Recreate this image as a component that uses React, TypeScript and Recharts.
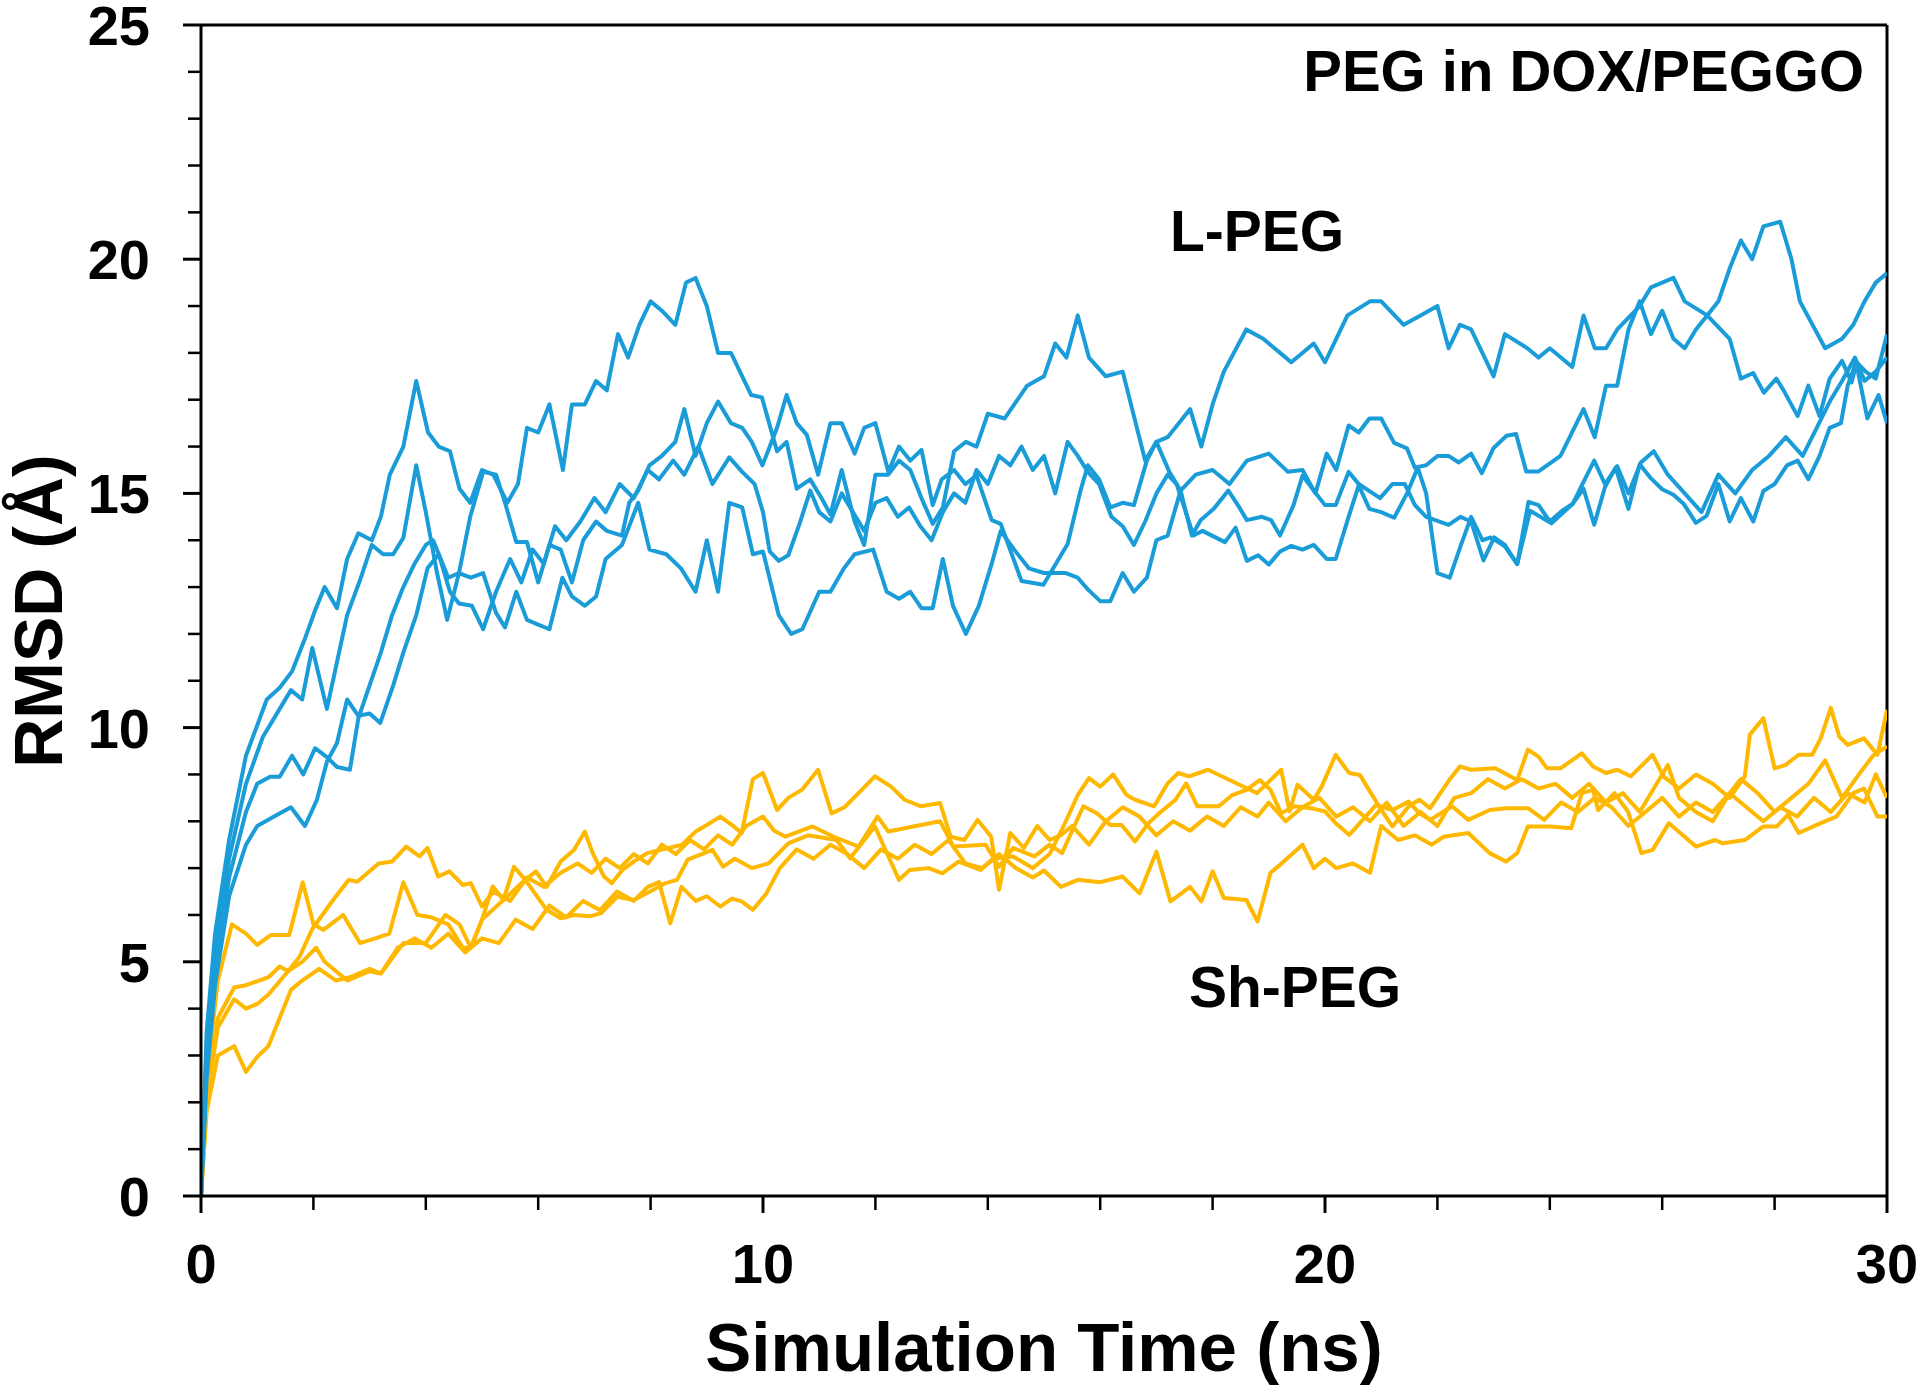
import React from 'react';
import { LineChart, Line, XAxis, YAxis, ReferenceLine } from 'recharts';

const BLUE = '#1A9CD8';
const GOLD = '#FFB800';
const FONT = '"Liberation Sans", Arial, Helvetica, sans-serif';

const xTicks = [0, 2, 4, 6, 8, 10, 12, 14, 16, 18, 20, 22, 24, 26, 28, 30];
const xLabelTicks = [0, 10, 20, 30];
const yTicks = [0, 1, 2, 3, 4, 5, 6, 7, 8, 9, 10, 11, 12, 13, 14, 15, 16, 17, 18, 19, 20, 21, 22, 23, 24, 25];
const yLabelTicks = [0, 5, 10, 15, 20, 25];

// L-PEG trajectories: [time (ns), RMSD (Å)]
const lPeg1: [number, number][] = [
  [0, 0], [0.1, 3.5], [0.25, 5.6], [0.5, 7.6], [0.8, 9.4], [1.17, 10.6], [1.4, 10.85], [1.62, 11.2], [1.85, 11.9], [2.03, 12.5],
  [2.2, 13.0], [2.42, 12.55], [2.6, 13.6], [2.8, 14.15], [3.04, 14.0], [3.2, 14.5], [3.36, 15.4], [3.6, 16.0], [3.83, 17.4], [4.04, 16.3],
  [4.23, 16.0], [4.43, 15.9], [4.6, 15.1], [4.79, 14.8], [5.0, 15.5], [5.2, 15.4], [5.45, 14.8], [5.64, 15.2], [5.8, 16.4], [6.0, 16.3],
  [6.2, 16.9], [6.44, 15.5], [6.6, 16.9], [6.83, 16.9], [7.03, 17.4], [7.22, 17.2], [7.42, 18.4], [7.6, 17.9], [7.8, 18.6], [8.0, 19.1],
  [8.2, 18.9], [8.44, 18.6], [8.63, 19.5], [8.8, 19.6], [9.0, 19.0], [9.2, 18.0], [9.43, 18.0], [9.79, 17.1], [9.98, 17.05], [10.25, 15.9],
  [10.42, 16.1], [10.6, 15.1], [10.84, 15.3], [11.04, 14.9], [11.2, 14.55], [11.4, 15.5], [11.63, 14.4], [11.8, 13.9], [12.0, 15.4], [12.23, 15.4],
  [12.42, 15.7], [12.62, 15.5], [12.82, 14.9], [13.02, 14.35], [13.2, 14.7], [13.4, 15.9], [13.61, 16.1], [13.8, 16.0], [14.0, 16.7], [14.3, 16.6],
  [14.7, 17.3], [15.0, 17.5], [15.2, 18.2], [15.4, 17.9], [15.6, 18.8], [15.8, 17.9], [16.1, 17.5], [16.4, 17.6], [16.8, 15.7], [17.0, 16.1],
  [17.2, 16.2], [17.6, 16.8], [17.8, 16.0], [18.0, 16.9], [18.2, 17.6], [18.6, 18.5], [18.9, 18.3], [19.2, 18.0], [19.4, 17.8], [19.8, 18.2],
  [20.0, 17.8], [20.4, 18.8], [20.8, 19.1], [21.0, 19.1], [21.4, 18.6], [21.7, 18.8], [22.0, 19.0], [22.2, 18.1], [22.4, 18.6], [22.6, 18.5],
  [23.0, 17.5], [23.2, 18.4], [23.6, 18.1], [23.8, 17.9], [24.0, 18.1], [24.4, 17.7], [24.6, 18.8], [24.8, 18.1], [25.0, 18.1], [25.2, 18.5],
  [25.6, 19.0], [25.8, 19.4], [26.2, 19.6], [26.4, 19.1], [26.8, 18.8], [27.2, 18.3], [27.4, 17.45], [27.62, 17.57], [27.81, 17.15], [28.03, 17.45],
  [28.16, 17.2], [28.41, 16.65], [28.6, 17.3], [28.8, 16.65], [28.98, 17.45], [29.2, 17.83], [29.37, 17.37], [29.46, 17.8], [29.62, 17.6], [29.8, 17.45],
  [30.0, 18.4],
];

const lPeg2: [number, number][] = [
  [0, 0], [0.1, 3.2], [0.25, 5.2], [0.5, 7.2], [0.8, 8.8], [1.1, 9.8], [1.4, 10.4], [1.6, 10.8], [1.8, 10.6], [1.98, 11.7],
  [2.24, 10.4], [2.42, 11.4], [2.6, 12.4], [2.83, 13.15], [3.04, 13.9], [3.24, 13.7], [3.42, 13.7], [3.6, 14.05], [3.83, 15.6], [4.0, 14.6],
  [4.2, 13.3], [4.38, 12.3], [4.59, 13.3], [4.8, 13.2], [5.02, 13.3], [5.25, 12.45], [5.41, 12.14], [5.61, 12.9], [5.8, 12.3], [6.0, 12.2],
  [6.2, 12.1], [6.43, 13.2], [6.6, 12.8], [6.83, 12.6], [7.03, 12.8], [7.2, 13.6], [7.49, 13.9], [7.78, 14.8], [7.98, 13.8], [8.28, 13.7],
  [8.54, 13.4], [8.8, 12.9], [9.0, 14.0], [9.2, 12.9], [9.4, 14.8], [9.63, 14.7], [9.82, 13.7], [10.0, 13.76], [10.28, 12.4], [10.5, 12.0],
  [10.7, 12.1], [11.0, 12.9], [11.2, 12.9], [11.44, 13.4], [11.63, 13.7], [11.96, 13.8], [12.2, 12.9], [12.42, 12.75], [12.62, 12.9], [12.82, 12.55],
  [13.02, 12.55], [13.2, 13.6], [13.38, 12.6], [13.61, 12.0], [13.84, 12.6], [14.07, 13.5], [14.23, 14.2], [14.47, 13.8], [14.73, 13.4], [15.0, 13.3],
  [15.39, 13.3], [15.6, 13.2], [15.78, 12.95], [16.0, 12.7], [16.18, 12.7], [16.4, 13.3], [16.6, 12.9], [16.83, 13.2], [17.0, 14.0], [17.2, 14.1],
  [17.43, 15.06], [17.7, 15.4], [18.0, 15.5], [18.3, 15.2], [18.61, 15.7], [19.0, 15.85], [19.34, 15.46], [19.6, 15.5], [19.83, 15.0], [20.03, 15.85],
  [20.2, 15.5], [20.42, 16.45], [20.6, 16.3], [20.79, 16.6], [21.0, 16.6], [21.23, 16.08], [21.46, 15.96], [21.6, 15.55], [21.8, 15.6], [22.0, 15.8],
  [22.2, 15.8], [22.38, 15.66], [22.6, 15.85], [22.79, 15.43], [23.0, 15.97], [23.23, 16.23], [23.4, 16.27], [23.58, 15.47], [23.8, 15.47], [24.19, 15.8],
  [24.6, 16.8], [24.8, 16.2], [25.0, 17.3], [25.2, 17.3], [25.4, 18.5], [25.6, 19.1], [25.8, 18.4], [26.0, 18.9], [26.2, 18.3], [26.4, 18.1],
  [26.6, 18.5], [26.8, 18.8], [27.0, 19.1], [27.2, 19.8], [27.4, 20.4], [27.6, 20.0], [27.8, 20.7], [28.1, 20.8], [28.3, 20.0], [28.45, 19.1],
  [28.9, 18.1], [29.2, 18.3], [29.4, 18.6], [29.6, 19.1], [29.8, 19.5], [30.0, 19.7],
];

const lPeg3: [number, number][] = [
  [0, 0], [0.1, 2.8], [0.25, 4.8], [0.5, 6.8], [0.8, 8.2], [1.0, 8.8], [1.23, 8.95], [1.4, 8.95], [1.62, 9.4], [1.82, 9.0],
  [2.03, 9.56], [2.24, 9.37], [2.42, 9.16], [2.65, 9.1], [2.8, 10.2], [3.0, 10.9], [3.2, 11.6], [3.4, 12.4], [3.6, 13.0], [3.8, 13.5],
  [4.0, 13.9], [4.13, 14.0], [4.4, 13.2], [4.59, 13.3], [4.79, 14.5], [5.02, 15.46], [5.25, 15.4], [5.41, 14.8], [5.61, 13.96], [5.8, 13.96],
  [6.0, 13.1], [6.2, 13.9], [6.4, 13.8], [6.6, 13.1], [6.8, 14.0], [7.03, 14.4], [7.22, 14.2], [7.49, 14.1], [7.62, 14.8], [7.78, 15.06],
  [7.98, 15.6], [8.2, 15.8], [8.44, 16.1], [8.6, 16.8], [8.8, 15.8], [9.0, 16.5], [9.2, 16.96], [9.43, 16.5], [9.63, 16.4], [9.8, 16.1],
  [9.99, 15.6], [10.25, 16.4], [10.42, 17.1], [10.6, 16.5], [10.78, 16.25], [10.98, 15.4], [11.2, 16.5], [11.4, 16.5], [11.63, 15.85], [11.8, 16.4],
  [12.0, 16.5], [12.23, 15.46], [12.42, 16.0], [12.62, 15.7], [12.82, 15.93], [13.02, 14.75], [13.18, 15.3], [13.4, 15.5], [13.6, 15.2], [13.8, 15.38],
  [14.07, 14.43], [14.23, 14.35], [14.6, 13.13], [14.99, 13.05], [15.42, 13.92], [15.65, 15.06], [15.78, 15.6], [15.98, 15.3], [16.18, 14.7], [16.4, 14.8],
  [16.6, 14.75], [16.83, 15.7], [17.0, 16.1], [17.23, 15.46], [17.43, 15.06], [17.63, 14.1], [17.79, 14.43], [18.02, 14.67], [18.28, 15.06], [18.45, 14.75],
  [18.61, 14.43], [18.88, 14.5], [19.04, 14.43], [19.2, 14.1], [19.44, 14.75], [19.6, 15.38], [19.8, 15.06], [20.0, 14.75], [20.19, 14.75], [20.42, 15.46],
  [20.6, 15.2], [20.98, 14.9], [21.2, 15.2], [21.42, 15.2], [21.6, 14.75], [21.8, 14.5], [22.2, 14.33], [22.41, 14.5], [22.6, 14.4], [22.82, 13.57],
  [23.01, 14.06], [23.2, 13.9], [23.42, 13.49], [23.62, 14.82], [23.8, 14.75], [24.0, 14.4], [24.22, 14.63], [24.41, 14.78], [24.6, 15.1], [24.79, 14.33],
  [24.98, 15.13], [25.17, 15.55], [25.4, 14.67], [25.6, 15.62], [25.8, 15.32], [26.0, 15.09], [26.2, 14.97], [26.38, 14.78], [26.6, 14.37], [26.79, 14.52],
  [27.0, 15.2], [27.2, 14.4], [27.4, 14.9], [27.62, 14.4], [27.8, 15.05], [28.0, 15.2], [28.22, 15.6], [28.41, 15.7], [28.6, 15.3], [28.8, 15.8],
  [28.98, 16.4], [29.18, 16.5], [29.3, 17.3], [29.45, 17.8], [29.65, 16.6], [29.85, 17.1], [30.0, 16.5],
];

const lPeg4: [number, number][] = [
  [0, 0], [0.1, 2.5], [0.25, 4.5], [0.5, 6.4], [0.8, 7.5], [1.0, 7.9], [1.3, 8.1], [1.6, 8.3], [1.85, 7.9], [2.06, 8.45],
  [2.24, 9.27], [2.42, 9.67], [2.6, 10.6], [2.8, 10.25], [3.0, 10.3], [3.19, 10.1], [3.42, 10.9], [3.6, 11.6], [3.83, 12.4], [4.03, 13.4],
  [4.23, 13.7], [4.43, 12.9], [4.59, 12.65], [4.82, 12.6], [5.02, 12.1], [5.25, 12.9], [5.5, 13.6], [5.7, 13.1], [5.9, 13.8], [6.1, 13.5],
  [6.3, 14.3], [6.5, 14.0], [6.75, 14.4], [7.0, 14.9], [7.2, 14.6], [7.45, 15.2], [7.7, 14.9], [7.95, 15.5], [8.15, 15.3], [8.4, 15.7],
  [8.6, 15.4], [8.85, 16.0], [9.1, 15.2], [9.4, 15.77], [9.63, 15.46], [9.85, 15.2], [10.0, 14.6], [10.12, 13.76], [10.28, 13.56], [10.45, 13.68],
  [10.65, 14.35], [10.84, 15.06], [11.0, 14.6], [11.2, 14.4], [11.4, 15.0], [11.6, 14.6], [11.8, 14.2], [12.0, 14.8], [12.2, 14.9], [12.4, 14.5],
  [12.6, 14.7], [12.8, 14.3], [13.0, 14.0], [13.2, 14.6], [13.4, 15.0], [13.6, 14.8], [13.8, 15.5], [14.0, 15.2], [14.2, 15.8], [14.4, 15.6],
  [14.6, 16.0], [14.8, 15.5], [15.0, 15.8], [15.2, 15.0], [15.42, 16.1], [15.6, 15.8], [15.78, 15.46], [15.98, 15.2], [16.2, 14.5], [16.4, 14.3],
  [16.6, 13.9], [16.8, 14.4], [17.0, 15.0], [17.2, 15.4], [17.36, 15.2], [17.66, 14.1], [17.82, 14.2], [18.22, 13.96], [18.41, 14.27], [18.61, 13.56],
  [18.81, 13.68], [19.0, 13.48], [19.2, 13.76], [19.4, 13.88], [19.6, 13.8], [19.8, 13.9], [20.03, 13.6], [20.19, 13.6], [20.42, 14.5], [20.6, 15.17],
  [20.79, 14.67], [21.0, 14.6], [21.23, 14.48], [21.46, 15.0], [21.65, 15.55], [21.8, 15.0], [22.0, 13.3], [22.22, 13.2], [22.41, 13.87], [22.6, 14.5],
  [22.8, 14.0], [22.95, 14.06], [23.2, 13.87], [23.42, 13.49], [23.65, 14.63], [24.03, 14.36], [24.41, 14.78], [24.57, 15.17], [24.79, 15.7], [24.98, 15.2],
  [25.2, 15.58], [25.4, 15.0], [25.62, 15.66], [25.85, 15.9], [26.1, 15.4], [26.4, 15.0], [26.7, 14.6], [27.0, 15.4], [27.3, 15.0], [27.6, 15.5],
  [27.9, 15.8], [28.2, 16.2], [28.5, 15.8], [28.75, 16.4], [29.0, 17.0], [29.2, 17.4], [29.43, 17.9], [29.6, 17.4], [29.8, 17.6], [30.0, 17.9],
];

// Sh-PEG trajectories: [time (ns), RMSD (Å)]
const shPeg1: [number, number][] = [
  [0, 0], [0.1, 2.5], [0.3, 4.6], [0.55, 5.8], [0.8, 5.6], [1.0, 5.36], [1.24, 5.57], [1.57, 5.57], [1.81, 6.7], [2.0, 5.8],
  [2.18, 5.68], [2.53, 6.0], [2.83, 5.4], [3.1, 5.5], [3.35, 5.6], [3.6, 6.7], [3.85, 6.0], [4.1, 5.95], [4.4, 5.8], [4.66, 5.3],
  [4.8, 5.3], [5.0, 5.9], [5.19, 6.61], [5.38, 6.32], [5.57, 7.03], [5.77, 6.75], [5.96, 6.93], [6.15, 6.6], [6.4, 7.14], [6.64, 7.39],
  [6.83, 7.78], [6.97, 7.32], [7.17, 6.82], [7.31, 6.68], [7.5, 6.96], [7.7, 7.14], [7.94, 7.32], [8.18, 7.39], [8.56, 7.5], [8.8, 7.78],
  [9.0, 7.92], [9.24, 8.1], [9.48, 7.89], [9.62, 7.75], [9.82, 8.9], [10.0, 9.03], [10.25, 8.24], [10.45, 8.5], [10.69, 8.67], [10.98, 9.1],
  [11.22, 8.17], [11.45, 8.3], [11.7, 8.6], [11.99, 8.96], [12.28, 8.74], [12.52, 8.46], [12.81, 8.32], [13.15, 8.39], [13.34, 7.67], [13.58, 7.6],
  [13.82, 8.03], [14.06, 7.67], [14.2, 6.54], [14.4, 7.75], [14.64, 7.43], [14.88, 7.9], [15.1, 7.6], [15.3, 7.7], [15.5, 7.9], [15.8, 7.5],
  [16.1, 8.0], [16.4, 8.3], [16.7, 8.1], [17.0, 7.7], [17.3, 8.0], [17.6, 7.8], [17.9, 8.1], [18.2, 7.9], [18.5, 8.3], [18.8, 8.1],
  [19.0, 8.4], [19.3, 8.0], [19.6, 8.3], [19.9, 8.5], [20.2, 8.1], [20.5, 8.3], [20.8, 8.0], [21.1, 8.4], [21.4, 7.9], [21.7, 8.2],
  [22.0, 7.9], [22.3, 8.5], [22.6, 8.6], [22.9, 8.9], [23.2, 8.7], [23.5, 8.9], [23.8, 8.7], [24.1, 8.8], [24.4, 8.5], [24.7, 8.8],
  [25.0, 8.4], [25.3, 8.6], [25.6, 8.2], [25.9, 8.8], [26.1, 9.2], [26.3, 8.5], [26.6, 8.2], [26.9, 8.0], [27.2, 8.6], [27.4, 8.9],
  [27.7, 8.6], [28.0, 8.2], [28.3, 8.5], [28.6, 8.8], [28.9, 9.3], [29.2, 8.5], [29.5, 9.0], [29.75, 9.4], [30.0, 9.6],
];

const shPeg2: [number, number][] = [
  [0, 0], [0.1, 2.2], [0.3, 3.8], [0.59, 4.45], [0.8, 4.5], [1.2, 4.67], [1.4, 4.9], [1.55, 4.8], [1.75, 5.1], [1.98, 5.7],
  [2.35, 6.32], [2.63, 6.75], [2.78, 6.71], [3.16, 7.1], [3.4, 7.14], [3.65, 7.46], [3.89, 7.25], [4.03, 7.43], [4.22, 6.82], [4.42, 6.93],
  [4.66, 6.64], [4.8, 6.68], [5.0, 6.18], [5.2, 6.5], [5.5, 6.3], [5.8, 6.8], [6.1, 6.6], [6.4, 6.9], [6.7, 7.1], [6.95, 6.9],
  [7.2, 7.2], [7.45, 7.0], [7.7, 7.3], [7.95, 7.1], [8.2, 7.5], [8.45, 7.3], [8.7, 7.6], [8.95, 7.4], [9.2, 7.7], [9.45, 7.5],
  [9.7, 7.9], [10.0, 8.1], [10.2, 7.8], [10.4, 7.67], [10.88, 7.89], [11.26, 7.67], [11.7, 7.46], [12.04, 8.1], [12.23, 7.78], [12.81, 7.92],
  [13.15, 8.0], [13.39, 7.46], [13.96, 7.5], [14.2, 7.03], [14.45, 7.43], [14.83, 7.25], [15.1, 7.5], [15.32, 7.32], [15.7, 8.32], [15.94, 8.17],
  [16.18, 7.92], [16.38, 7.92], [16.62, 7.57], [16.86, 7.96], [17.05, 8.17], [17.34, 8.46], [17.53, 8.81], [17.73, 8.32], [18.11, 8.32], [18.35, 8.56],
  [18.6, 8.67], [18.84, 8.88], [19.03, 8.67], [19.22, 8.17], [19.46, 8.32], [19.75, 8.28], [20.0, 8.21], [20.19, 7.96], [20.43, 7.71], [20.62, 7.96],
  [20.91, 8.35], [21.2, 8.24], [21.49, 8.42], [21.68, 8.17], [21.87, 8.03], [22.26, 8.32], [22.55, 8.03], [22.93, 8.24], [23.22, 8.28], [23.61, 8.28],
  [23.9, 8.03], [24.2, 8.4], [24.5, 8.2], [24.8, 8.5], [25.1, 8.3], [25.4, 7.9], [25.7, 8.2], [26.0, 8.5], [26.3, 8.1], [26.6, 8.4],
  [26.9, 8.2], [27.2, 8.6], [27.5, 8.3], [27.8, 8.0], [28.1, 8.3], [28.4, 8.1], [28.7, 8.5], [29.0, 8.2], [29.3, 8.6], [29.6, 8.4],
  [29.8, 9.0], [30.0, 8.5],
];

const shPeg3: [number, number][] = [
  [0, 0], [0.1, 2.0], [0.3, 3.6], [0.59, 4.2], [0.8, 4.0], [1.0, 4.1], [1.2, 4.3], [1.55, 4.8], [1.8, 5.0], [2.05, 5.3],
  [2.2, 5.0], [2.6, 4.6], [3.0, 4.8], [3.2, 4.75], [3.6, 5.4], [4.0, 5.4], [4.35, 6.0], [4.6, 5.8], [4.8, 5.3], [5.0, 5.9],
  [5.38, 6.32], [5.77, 6.75], [6.15, 6.11], [6.4, 5.93], [6.64, 6.0], [6.92, 5.97], [7.12, 6.04], [7.41, 6.39], [7.7, 6.32], [7.99, 6.5],
  [8.27, 6.68], [8.47, 6.75], [8.66, 7.18], [9.1, 7.39], [9.29, 7.03], [9.5, 7.2], [9.8, 7.0], [10.1, 7.1], [10.45, 7.53], [10.8, 7.7],
  [11.31, 7.6], [11.55, 7.21], [11.99, 7.89], [12.42, 6.75], [12.61, 6.96], [12.95, 7.0], [13.19, 6.89], [13.48, 7.14], [13.87, 6.96], [14.1, 7.2],
  [14.45, 7.25], [14.8, 7.0], [15.1, 7.3], [15.35, 7.9], [15.6, 8.56], [15.8, 8.92], [16.0, 8.74], [16.23, 9.0], [16.47, 8.56], [16.62, 8.46],
  [16.96, 8.32], [17.2, 8.81], [17.39, 9.03], [17.58, 8.96], [17.92, 9.1], [18.3, 8.88], [18.6, 8.71], [18.79, 8.6], [19.03, 8.88], [19.22, 9.1],
  [19.37, 8.21], [19.51, 8.78], [19.8, 8.46], [19.94, 8.74], [20.19, 9.42], [20.43, 9.03], [20.62, 8.99], [20.96, 8.32], [21.2, 7.89], [21.49, 8.32],
  [21.68, 8.46], [21.87, 8.28], [22.21, 8.88], [22.4, 9.17], [22.6, 9.1], [23.03, 9.13], [23.42, 8.88], [23.61, 9.53], [23.8, 9.38], [23.95, 9.13],
  [24.19, 9.13], [24.57, 9.45], [24.77, 9.17], [25.0, 9.03], [25.2, 9.1], [25.44, 8.96], [25.83, 9.42], [26.02, 8.96], [26.3, 8.7], [26.6, 9.0],
  [26.9, 8.8], [27.2, 8.5], [27.47, 8.96], [27.56, 9.85], [27.8, 10.2], [28.0, 9.13], [28.19, 9.2], [28.43, 9.42], [28.67, 9.42], [28.82, 9.77],
  [29.0, 10.42], [29.15, 9.81], [29.3, 9.63], [29.59, 9.77], [29.83, 9.42], [30.0, 10.38],
];

const shPeg4: [number, number][] = [
  [0, 0], [0.1, 1.8], [0.3, 3.0], [0.59, 3.2], [0.8, 2.65], [1.0, 2.97], [1.2, 3.2], [1.4, 3.8], [1.6, 4.4], [1.8, 4.6],
  [2.1, 4.85], [2.4, 4.6], [2.65, 4.67], [3.0, 4.85], [3.2, 4.75], [3.5, 5.3], [3.8, 5.5], [4.1, 5.3], [4.4, 5.6], [4.7, 5.2],
  [5.0, 5.5], [5.3, 5.4], [5.6, 5.9], [5.9, 5.7], [6.2, 6.2], [6.5, 5.95], [6.8, 6.3], [7.1, 6.1], [7.4, 6.5], [7.7, 6.3],
  [7.95, 6.6], [8.15, 6.7], [8.35, 5.82], [8.55, 6.6], [8.8, 6.3], [9.0, 6.4], [9.24, 6.18], [9.45, 6.35], [9.62, 6.29], [9.82, 6.11],
  [10.06, 6.46], [10.3, 7.0], [10.6, 7.4], [10.9, 7.2], [11.2, 7.5], [11.5, 7.3], [11.8, 7.0], [12.1, 7.4], [12.4, 7.2], [12.7, 7.5],
  [13.0, 7.3], [13.3, 7.6], [13.6, 7.1], [13.9, 7.0], [14.2, 7.3], [14.5, 7.0], [14.8, 6.8], [15.0, 6.95], [15.3, 6.6], [15.6, 6.75],
  [16.0, 6.7], [16.4, 6.82], [16.7, 6.46], [17.0, 7.35], [17.25, 6.29], [17.6, 6.6], [17.8, 6.29], [18.0, 6.93], [18.2, 6.36], [18.6, 6.32],
  [18.8, 5.86], [19.03, 6.9], [19.2, 7.07], [19.6, 7.5], [19.8, 7.0], [20.0, 7.2], [20.2, 7.0], [20.5, 7.1], [20.8, 6.9], [21.0, 7.9],
  [21.3, 7.6], [21.6, 7.7], [21.9, 7.5], [22.11, 7.67], [22.55, 7.75], [22.93, 7.32], [23.22, 7.14], [23.42, 7.32], [23.61, 7.89], [24.0, 7.89],
  [24.38, 7.85], [24.57, 8.6], [24.77, 8.67], [24.86, 8.24], [25.15, 8.6], [25.39, 8.21], [25.63, 7.32], [25.83, 7.39], [26.12, 7.96], [26.6, 7.46],
  [26.94, 7.6], [27.08, 7.53], [27.47, 7.6], [27.8, 7.89], [28.04, 7.89], [28.24, 8.14], [28.43, 7.75], [28.82, 7.96], [29.1, 8.1], [29.4, 8.6],
  [29.59, 8.7], [29.83, 8.1], [30.0, 8.1],
];

const toPoints = (pairs: [number, number][]) => pairs.map(([t, v]) => ({ t, v }));

const shortSeries = [shPeg1, shPeg2, shPeg3, shPeg4].map(toPoints);
const longSeries = [lPeg1, lPeg2, lPeg3, lPeg4].map(toPoints);

const XTick = (props: any) => {
  const { x, y, payload } = props;
  const v = payload.value;
  const major = xLabelTicks.includes(v);
  return (
    <g>
      <line x1={x} x2={x} y1={y} y2={y + (major ? 17 : 14)} stroke="#000" strokeWidth={major ? 3 : 2.5} />
      {major && (
        <text x={x} y={y + 87} textAnchor="middle" fontSize={56} fontWeight="bold" fontFamily={FONT} fill="#000">
          {v}
        </text>
      )}
    </g>
  );
};

const YTick = (props: any) => {
  const { x, y, payload } = props;
  const v = payload.value;
  const major = yLabelTicks.includes(v);
  return (
    <g>
      <line x1={x - (major ? 18 : 13)} x2={x} y1={y} y2={y} stroke="#000" strokeWidth={major ? 3 : 2.5} />
      {major && (
        <text x={x - 51} y={y + 20} textAnchor="end" fontSize={56} fontWeight="bold" fontFamily={FONT} fill="#000">
          {v}
        </text>
      )}
    </g>
  );
};

export default function App() {
  return (
    <div style={{ position: 'absolute', left: 0, top: 0, width: 1920, height: 1387, background: '#fff' }}>
      <LineChart width={1920} height={1387} margin={{ top: 25, right: 33, bottom: 0, left: 0 }}>
        <XAxis
          dataKey="t"
          type="number"
          domain={[0, 30]}
          ticks={xTicks}
          interval={0}
          height={191}
          tickSize={0}
          tickMargin={0}
          tickLine={false}
          tick={<XTick />}
          axisLine={{ stroke: '#000', strokeWidth: 3 }}
          allowDataOverflow
        />
        <YAxis
          type="number"
          domain={[0, 25]}
          ticks={yTicks}
          interval={0}
          width={201}
          tickSize={0}
          tickMargin={0}
          tickLine={false}
          tick={<YTick />}
          axisLine={{ stroke: '#000', strokeWidth: 3 }}
          allowDataOverflow
        />
        <ReferenceLine y={25} stroke="#000" strokeWidth={3} />
        <ReferenceLine x={30} stroke="#000" strokeWidth={3} />
        {shortSeries.map((d, i) => (
          <Line
            key={`sh${i}`}
            data={d}
            dataKey="v"
            type="linear"
            stroke={GOLD}
            strokeWidth={4}
            strokeLinejoin="round"
            dot={false}
            activeDot={false}
            isAnimationActive={false}
          />
        ))}
        {longSeries.map((d, i) => (
          <Line
            key={`l${i}`}
            data={d}
            dataKey="v"
            type="linear"
            stroke={BLUE}
            strokeWidth={4}
            strokeLinejoin="round"
            dot={false}
            activeDot={false}
            isAnimationActive={false}
          />
        ))}
      </LineChart>
      <svg
        width={1920}
        height={1387}
        style={{ position: 'absolute', left: 0, top: 0, pointerEvents: 'none' }}
      >
        <g fontFamily={FONT} fontWeight="bold" fill="#000">
          <text x={1044} y={1371} textAnchor="middle" fontSize={69}>Simulation Time (ns)</text>
          <text x={62} y={611} textAnchor="middle" fontSize={68} transform="rotate(-90, 62, 611)">RMSD (Å)</text>
          <text x={1864} y={91} textAnchor="end" fontSize={58}>PEG in DOX/PEGGO</text>
          <text x={1170} y={251} textAnchor="start" fontSize={57}>L-PEG</text>
          <text x={1189} y={1007} textAnchor="start" fontSize={57}>Sh-PEG</text>
        </g>
      </svg>
    </div>
  );
}
